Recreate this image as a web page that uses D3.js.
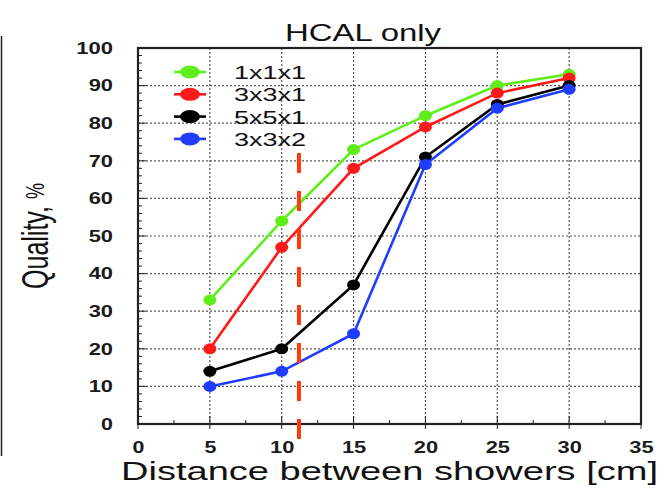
<!DOCTYPE html>
<html>
<head>
<meta charset="utf-8">
<script src="https://cdn.jsdelivr.net/npm/d3@7"></script>
<style>
  html, body { margin: 0; padding: 0; background: #fff; }
  svg { display: block; font-family: "Liberation Sans", Arial, sans-serif; }
</style>
</head>
<body>
<svg id="chart" width="670" height="489"></svg>
<script>
// Shower separation distances (cm)
const distances = [5, 10, 15, 20, 25, 30];

// Reconstruction quality (%) per clustering configuration
const seriesNames = ["1x1x1", "3x3x1", "5x5x1", "3x3x2"];
const seriesColors = ["#5fee1a", "#ff1a1a", "#000000", "#1f3cff"];
const quality111 = [33, 54, 73, 82, 90, 93];
const quality331 = [20, 47, 68, 79, 88, 92];
const quality551 = [14, 20, 37, 71, 85, 90];
const quality332 = [10, 14, 24, 69, 84, 89];

const xTicks = [0, 5, 10, 15, 20, 25, 30, 35];
const yTicks = [0, 10, 20, 30, 40, 50, 60, 70, 80, 90, 100];
const cutDistance = 11.2;

const seriesValues = [quality111, quality331, quality551, quality332];

const svg = d3.select("#chart");
const plotLeft = 138, plotRight = 641, plotTop = 48, plotBottom = 424;

const x = d3.scaleLinear().domain([0, 35]).range([plotLeft, plotRight]);
const y = d3.scaleLinear().domain([0, 100]).range([plotBottom, plotTop]);

// border line on the left edge
svg.append("line").attr("x1", 1.5).attr("x2", 1.5).attr("y1", 36).attr("y2", 456)
  .attr("stroke", "#222").attr("stroke-width", 1.5);

// title
svg.append("text").attr("x", 285).attr("y", 41)
  .attr("font-size", 24).attr("fill", "#111")
  .attr("textLength", 156).attr("lengthAdjust", "spacingAndGlyphs").text("HCAL only");

// dotted grid
const grid = svg.append("g").attr("stroke", "#555").attr("stroke-width", 1.2)
  .attr("stroke-dasharray", "2,2");
xTicks.filter(t => t > 0 && t < 35).forEach(t => {
  grid.append("line").attr("x1", x(t)).attr("x2", x(t)).attr("y1", plotTop).attr("y2", plotBottom);
});
yTicks.filter(t => t > 0 && t < 100).forEach(t => {
  grid.append("line").attr("x1", plotLeft).attr("x2", plotRight).attr("y1", y(t)).attr("y2", y(t));
});

// wide bold tick numerals
const styleTickText = sel => sel.attr("font-size", 16.5).attr("font-weight", "bold").attr("fill", "#1a1a1a")
  .attr("textLength", d => String(d).length * 12.4 - 0.5)
  .attr("lengthAdjust", "spacingAndGlyphs");

const xAxis = d3.axisBottom(x).tickValues(xTicks).tickSize(0).tickPadding(17);
const gx = svg.append("g").attr("transform", `translate(0,${plotBottom})`).call(xAxis);
gx.select(".domain").remove();
gx.selectAll("text").call(styleTickText);

const yAxis = d3.axisLeft(y).tickValues(yTicks).tickSize(0).tickPadding(25);
const gy = svg.append("g").attr("transform", `translate(${plotLeft},0)`).call(yAxis);
gy.select(".domain").remove();
gy.selectAll("text").call(styleTickText);

// minor and major tick marks
const tickG = svg.append("g").attr("stroke", "#222").attr("stroke-width", 1);
d3.range(0, 100.01, 2).forEach(v => {
  const len = v % 10 === 0 ? 8 : 4;
  tickG.append("line").attr("x1", plotLeft).attr("x2", plotLeft + len).attr("y1", y(v)).attr("y2", y(v));
});
d3.range(0, 35.01, 2.5).forEach(v => {
  const major = v % 5 === 0;
  tickG.append("line").attr("x1", x(v)).attr("x2", x(v))
    .attr("y1", plotBottom).attr("y2", plotBottom - (major ? 8 : 4));
  if (major) tickG.append("line").attr("x1", x(v)).attr("x2", x(v))
    .attr("y1", plotBottom).attr("y2", plotBottom + 5);
});

// frame
svg.append("rect").attr("x", plotLeft).attr("y", plotTop).attr("width", plotRight - plotLeft)
  .attr("height", plotBottom - plotTop).attr("fill", "none").attr("stroke", "#222").attr("stroke-width", 2.2);

// series lines and markers
const line = d3.line().x((d, i) => x(distances[i])).y(d => y(d));
seriesValues.forEach((vals, k) => {
  svg.append("path").datum(vals).attr("d", line).attr("fill", "none")
    .attr("stroke", seriesColors[k]).attr("stroke-width", 2.6);
  svg.append("g").selectAll("ellipse").data(vals).join("ellipse")
    .attr("cx", (d, i) => x(distances[i])).attr("cy", d => y(d))
    .attr("rx", 6.5).attr("ry", 5.5).attr("fill", seriesColors[k]);
});

// dashed cut line
svg.append("line").attr("x1", x(cutDistance)).attr("x2", x(cutDistance))
  .attr("y1", 153).attr("y2", 446)
  .attr("stroke", "#ff3a0a").attr("stroke-width", 4).attr("stroke-dasharray", "20,18");

// legend
const legend = svg.append("g");
seriesNames.forEach((name, k) => {
  const ly = 72 + k * 22.3;
  legend.append("line").attr("x1", 174).attr("x2", 206).attr("y1", ly).attr("y2", ly)
    .attr("stroke", seriesColors[k]).attr("stroke-width", 2.6);
  legend.append("ellipse").attr("cx", 190).attr("cy", ly).attr("rx", 10).attr("ry", 6.5)
    .attr("fill", seriesColors[k]);
  legend.append("text").attr("x", 234).attr("y", ly + 7).attr("font-size", 19)
    .attr("fill", "#111").attr("textLength", 72).attr("lengthAdjust", "spacingAndGlyphs")
    .text(name);
});

// axis titles
svg.append("text").attr("x", 121).attr("y", 480)
  .attr("font-size", 26).attr("fill", "#111")
  .attr("textLength", 537).attr("lengthAdjust", "spacingAndGlyphs")
  .text("Distance between showers [cm]");

const yTitle = svg.append("text").attr("transform", "translate(48,289) rotate(-90)")
  .attr("font-size", 36).attr("fill", "#111")
  .attr("textLength", 106).attr("lengthAdjust", "spacingAndGlyphs");
yTitle.append("tspan").text("Quality, ");
yTitle.append("tspan").attr("font-size", 26).attr("dy", -4).text("%");
</script>
</body>
</html>
